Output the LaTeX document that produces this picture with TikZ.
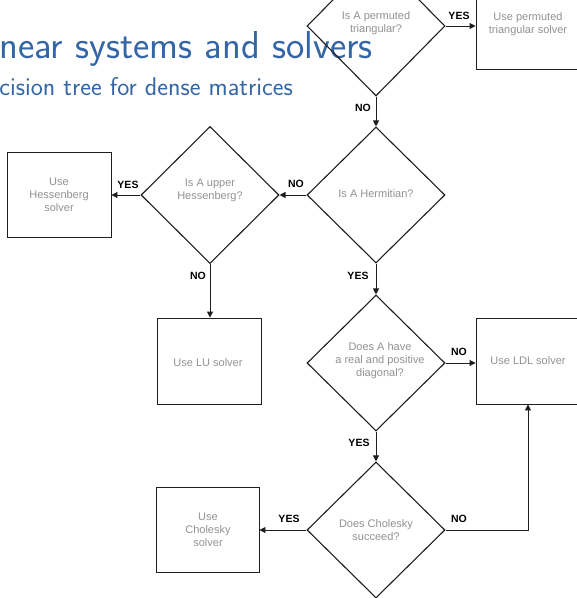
\documentclass[tikz,border=0pt]{standalone}
\usepackage{fontspec}
\newfontfamily\arialike{Liberation Sans}
\usetikzlibrary{shapes.geometric,arrows.meta}
\definecolor{titleblue}{RGB}{52,101,164}
\definecolor{qgray}{RGB}{145,145,145}
\definecolor{edge}{RGB}{30,30,30}
\tikzset{
  dia/.style={draw=edge, line width=1.1pt, shape=diamond, inner sep=0pt,
    minimum width=138pt, minimum height=137pt},
  solverbox/.style={draw=edge, line width=0.9pt, shape=rectangle, inner sep=0pt,
    minimum width=104pt, minimum height=86pt},
  qtext/.style={text=qgray, align=center, inner sep=0pt,
    font=\arialike\fontsize{11}{13}\selectfont},
  answer/.style={text=black, inner sep=0pt,
    font=\arialike\bfseries\fontsize{10.5}{12}\selectfont},
  flow/.style={draw=edge, line width=0.9pt, -{Triangle[length=6pt,width=6pt]}},
}
\begin{document}
\begin{tikzpicture}[x=1pt,y=-1pt]
\useasboundingbox (0,0) rectangle (577,598);
\clip (0,0) rectangle (577,598);

% slide heading
\node[anchor=base east, inner sep=0pt, text=titleblue,
  font=\sffamily\fontsize{38.9}{42}\selectfont] (title) at (373,58) {near systems and solvers};
\node[anchor=base east, inner sep=0pt, text=titleblue,
  font=\sffamily\fontsize{25.7}{30}\selectfont] (subtitle) at (293,95) {cision tree for dense matrices};

% decisions
\node[dia, minimum height=140pt] (perm) at (376,26) {};
\node[dia, minimum height=136pt] (herm) at (376,195) {};
\node[dia] (hess) at (210,195) {};
\node[dia, minimum height=136pt] (diag) at (376,363) {};
\node[dia, minimum height=136pt] (chol) at (376,530) {};

\node[qtext] (permq) at (376,23) {Is A permuted\\triangular?};
\node[qtext] (hermq) at (376,194) {Is A Hermitian?};
\node[qtext] (hessq) at (210,190) {Is A upper\\Hessenberg?};
\node[qtext] (diagq) at (380,361) {Does A have\\a real and positive\\diagonal?};
\node[qtext] (cholq) at (376,530) {Does Cholesky\\succeed?};

% solvers
\node[solverbox] (bperm) at (528,26) {};
\node[solverbox, minimum height=85pt] (bhess) at (59,194.5) {};
\node[solverbox] (blu) at (209,361) {};
\node[solverbox] (bldl) at (528,361) {};
\node[solverbox, minimum width=103pt, minimum height=85pt] (bchol) at (207.5,529.5) {};

\node[qtext] (bpermt) at (528,24) {Use permuted\\triangular solver};
\node[qtext] (bhesst) at (59,194.5) {Use\\Hessenberg\\solver};
\node[qtext] (blut) at (208,363) {Use LU solver};
\node[qtext] (bldlt) at (528,361) {Use LDL solver};
\node[qtext] (bcholt) at (208,529.5) {Use\\Cholesky\\solver};

% connectors
\draw[flow] (perm.east) -- (bperm.west);
\draw[flow] (perm.south) -- (herm.north);
\draw[flow] (herm.west) -- (hess.east);
\draw[flow] (hess.west) -- (hess.west -| bhess.east);
\draw[flow] (hess.south) -- (hess.south |- blu.north);
\draw[flow] (herm.south) -- (diag.north);
\draw[flow] (diag.east) -- (diag.east -| bldl.west);
\draw[flow] (diag.south) -- (chol.north);
\draw[flow] (chol.west) -- (chol.west -| bchol.east);
\draw[flow] (chol.east) -| (bldl.south);

% answers
\node[answer] (a1) at (459,16) {YES};
\node[answer] (a2) at (363,108) {NO};
\node[answer] (a3) at (296,184) {NO};
\node[answer] (a4) at (128,185) {YES};
\node[answer] (a5) at (198,276) {NO};
\node[answer] (a6) at (358,276) {YES};
\node[answer] (a7) at (459,352) {NO};
\node[answer] (a8) at (359,443) {YES};
\node[answer] (a9) at (289,519) {YES};
\node[answer] (a10) at (459,519) {NO};
\end{tikzpicture}
\end{document}
